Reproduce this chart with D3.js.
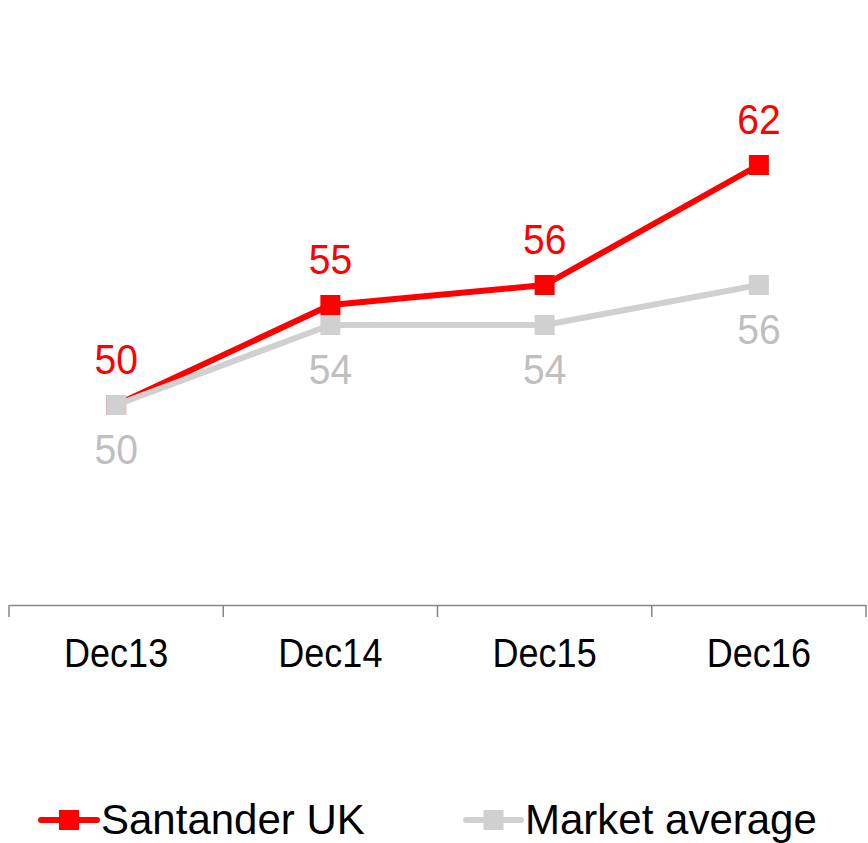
<!DOCTYPE html>
<html>
<head>
<meta charset="utf-8">
<script src="https://cdn.jsdelivr.net/npm/d3@7/dist/d3.min.js"></script>
<style>
  html, body { margin: 0; padding: 0; background: #fff; }
  svg { display: block; font-family: "Liberation Sans", Arial, sans-serif; }
</style>
</head>
<body>
<svg id="chart" width="868" height="843"></svg>
<script>
// Periods on the x axis
const categories = ["Dec13", "Dec14", "Dec15", "Dec16"];
// Series values
const santanderUK = [50, 55, 56, 62];
const marketAverage = [50, 54, 54, 56];
const seriesNames = ["Santander UK", "Market average"];
const seriesColors = ["#ff0000", "#d0d0d0"];
const labelColors = ["#ff0000", "#bfbfbf"];

const svg = d3.select("#chart");

const x = d3.scaleBand().domain(categories).range([9, 866]).padding(0);
const y = d3.scaleLinear().domain([40, 70]).range([605, 5]);

// Category axis along the bottom
const axis = d3.axisBottom(x).tickSize(0).tickPadding(0).tickFormat("");
const gAxis = svg.append("g").attr("transform", "translate(0,605)").call(axis);
gAxis.select(".domain").attr("stroke", "#868686").attr("stroke-width", 1.5);

// Tick marks at category boundaries
const bounds = categories.map(c => x(c)).concat([x.range()[1]]);
svg.append("g").selectAll("line").data(bounds).join("line")
  .attr("x1", d => d).attr("x2", d => d)
  .attr("y1", 605).attr("y2", 617)
  .attr("stroke", "#868686").attr("stroke-width", 1.5);

svg.append("g").selectAll("text").data(categories).join("text")
  .attr("transform", d => `translate(${x(d) + x.bandwidth() / 2},667) scale(0.9,1)`)
  .attr("text-anchor", "middle")
  .attr("font-size", 40)
  .attr("fill", "#000")
  .text(d => d);

const line = d3.line()
  .x((d, i) => x(categories[i]) + x.bandwidth() / 2)
  .y(d => y(d));

const series = [santanderUK, marketAverage];
const labelDy = [-31, 59];

series.forEach((vals, s) => {
  const g = svg.append("g");
  g.append("path")
    .datum(vals)
    .attr("d", line)
    .attr("fill", "none")
    .attr("stroke", seriesColors[s])
    .attr("stroke-width", 6)
    .attr("stroke-linejoin", "round");
  g.selectAll("rect").data(vals).join("rect")
    .attr("x", (d, i) => x(categories[i]) + x.bandwidth() / 2 - 10)
    .attr("y", d => y(d) - 10)
    .attr("width", 20).attr("height", 20)
    .attr("fill", seriesColors[s]);
});

series.forEach((vals, s) => {
  svg.append("g").selectAll("text").data(vals).join("text")
    .attr("transform", (d, i) => `translate(${x(categories[i]) + x.bandwidth() / 2},${y(d) + labelDy[s]}) scale(0.93,1)`)
    .attr("text-anchor", "middle")
    .attr("font-size", 42)
    .attr("fill", labelColors[s])
    .text(d => d);
});

// Legend
const legendItems = [
  { x0: 41, x1: 97, tx: 101 },
  { x0: 466, x1: 521, tx: 525 }
];
legendItems.forEach((it, s) => {
  const g = svg.append("g");
  g.append("line")
    .attr("x1", it.x0).attr("x2", it.x1).attr("y1", 820).attr("y2", 820)
    .attr("stroke", seriesColors[s]).attr("stroke-width", 6)
    .attr("stroke-linecap", "round");
  g.append("rect")
    .attr("x", (it.x0 + it.x1) / 2 - 10).attr("y", 810)
    .attr("width", 20).attr("height", 20)
    .attr("fill", seriesColors[s]);
  g.append("text")
    .attr("transform", `translate(${it.tx},834) scale(1,1)`)
    .attr("font-size", 42)
    .attr("fill", "#000")
    .text(seriesNames[s]);
});
</script>
</body>
</html>
